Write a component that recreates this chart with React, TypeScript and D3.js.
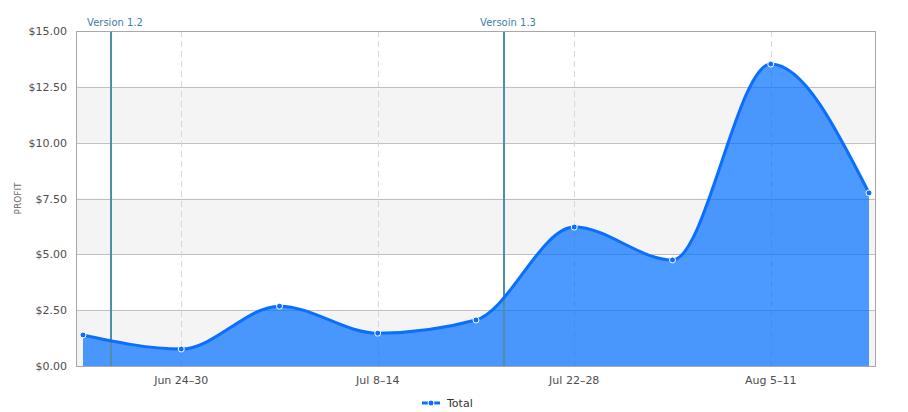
import * as d3 from "d3"

const categories = [
  "Jun 17–23",
  "Jun 24–30",
  "Jul 1–7",
  "Jul 8–14",
  "Jul 15–21",
  "Jul 22–28",
  "Jul 29–Aug 4",
  "Aug 5–11",
  "Aug 12–18",
]
const profit = [1.39, 0.76, 2.68, 1.47, 2.06, 6.22, 4.75, 13.52, 7.75]
const yTicks = [0, 2.5, 5, 7.5, 10, 12.5, 15]
const versionLabels = ["Version 1.2", "Versoin 1.3"]
const versionAt = [0.28, 4.285] // in category steps

const W = 908
const H = 412
const plot = { left: 76, right: 876, top: 31, bottom: 366 }
const font = "'Lucida Grande', 'DejaVu Sans', sans-serif"

export default function App() {
  const x = d3.scalePoint<string>().domain(categories).range([83, 869])
  const step = x.step()
  const y = d3.scaleLinear().domain([0, 15]).range([plot.bottom, plot.top])

  const pts = categories.map((c, i) => [x(c) as number, y(profit[i])] as [number, number])
  const line = d3.line().curve(d3.curveMonotoneX)(pts) || ""
  const area =
    d3
      .area()
      .curve(d3.curveMonotoneX)
      .y0(y(0))(pts) || ""

  const bands = yTicks.slice(0, -1).filter((_, i) => i % 2 === 0)

  return (
    <svg
      width={W}
      height={H}
      style={{ position: "absolute", left: 0, top: 0, fontFamily: font }}
    >
      <rect width={W} height={H} fill="#fff" />

      {/* alternate bands */}
      {bands.map((t) => (
        <rect
          key={"b" + t}
          x={plot.left}
          y={y(t + 2.5)}
          width={plot.right - plot.left}
          height={y(t) - y(t + 2.5)}
          fill="#f4f4f4"
        />
      ))}

      {/* horizontal grid */}
      {yTicks.map((t) => (
        <line
          key={"g" + t}
          x1={plot.left}
          x2={plot.right}
          y1={Math.round(y(t)) + 0.5}
          y2={Math.round(y(t)) + 0.5}
          stroke="#c0c0c0"
        />
      ))}

      {/* vertical dashed grid at labelled weeks */}
      {categories.map((c, i) =>
        i % 2 === 1 ? (
          <line
            key={"v" + c}
            x1={Math.round(x(c) as number) + 0.5}
            x2={Math.round(x(c) as number) + 0.5}
            y1={plot.top}
            y2={plot.bottom}
            stroke="#d8d8d8"
            strokeDasharray="6,4"
          />
        ) : null
      )}

      <path d={area} fill="rgb(0,110,255)" fillOpacity={0.7} />

      {/* version plot lines */}
      {versionLabels.map((lab, i) => {
        const px = Math.round(83 + versionAt[i] * step)
        return (
          <g key={lab}>
            <line x1={px} x2={px} y1={plot.top} y2={plot.bottom} stroke="#4f8ea6" strokeWidth={2} />
            <text x={px + 4} y={26} textAnchor="middle" fontSize={10} fill="#3d7fa3">
              {lab}
            </text>
          </g>
        )
      })}

      <path d={line} fill="none" stroke="#0a6eff" strokeWidth={3} strokeLinejoin="round" />
      {pts.map(([px, py], i) => (
        <circle key={"m" + i} cx={px} cy={py} r={3} fill="#0a6eff" stroke="#fff" strokeWidth={1} />
      ))}

      {/* plot border */}
      <rect
        x={plot.left + 0.5}
        y={plot.top + 0.5}
        width={plot.right - plot.left - 1}
        height={plot.bottom - plot.top}
        fill="none"
        stroke="#a8a8a8"
      />

      {/* y axis labels */}
      {yTicks.map((t) => (
        <text key={"yl" + t} x={67} y={y(t) + 4} textAnchor="end" fontSize={11} fill="#4d4d4d">
          {"$" + t.toFixed(2)}
        </text>
      ))}
      <text
        transform={`translate(21,${(plot.top + plot.bottom) / 2}) rotate(-90)`}
        textAnchor="middle"
        fontSize={9}
        fill="#666"
      >
        PROFIT
      </text>

      {/* x axis labels */}
      {categories.map((c, i) =>
        i % 2 === 1 ? (
          <text key={"xl" + c} x={x(c) as number} y={384} textAnchor="middle" fontSize={11} fill="#4d4d4d">
            {c}
          </text>
        ) : null
      )}

      {/* legend */}
      <line x1={422} x2={440} y1={403} y2={403} stroke="#0a6eff" strokeWidth={3} />
      <circle cx={431} cy={403} r={3} fill="#0a6eff" stroke="#fff" strokeWidth={1} />
      <text x={447} y={407} fontSize={11} fill="#333">
        Total
      </text>
    </svg>
  )
}
